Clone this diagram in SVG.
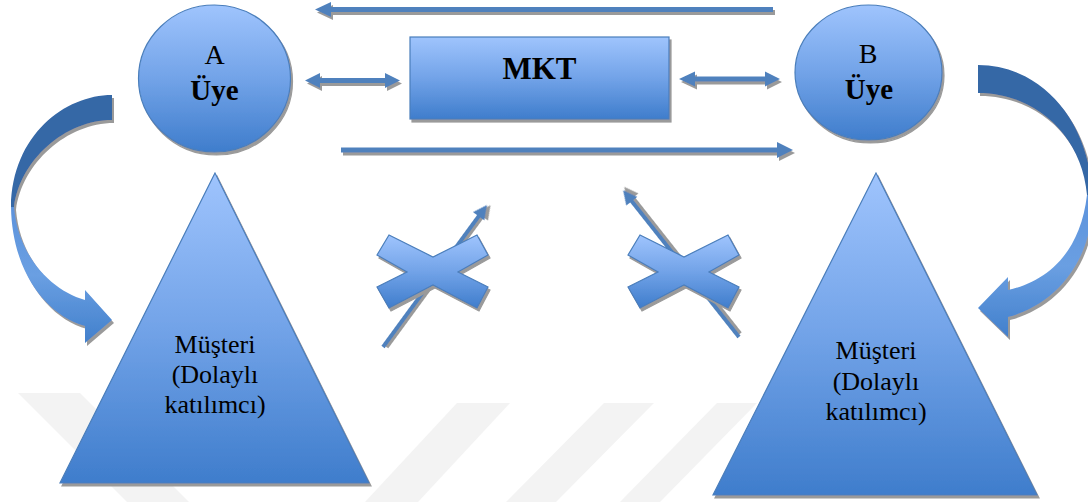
<svg xmlns="http://www.w3.org/2000/svg" width="1088" height="502" viewBox="0 0 1088 502">
<style>
.shape{fill:url(#gShape);stroke:#4a7ebb;stroke-width:1.2;filter:url(#sh)}
.arr{fill:#4f81bd;filter:url(#sh)}
.dark{fill:#3567a6;filter:url(#sh)}
.light{fill:url(#gCurve);filter:url(#sh)}
.wm{fill:#f3f3f3}
.t{font-family:"Liberation Serif","Times New Roman",serif;fill:#000;text-anchor:middle}
.b{font-weight:bold}
</style>
<defs>
<linearGradient id="gShape" x1="0" y1="0" x2="0" y2="1">
<stop offset="0" stop-color="#9fc4fd"/>
<stop offset="0.5" stop-color="#72a3e8"/>
<stop offset="1" stop-color="#3f7dcc"/>
</linearGradient>
<linearGradient id="gCurve" x1="0" y1="0" x2="0" y2="1">
<stop offset="0" stop-color="#5d93dc"/>
<stop offset="0.5" stop-color="#6a9fe2"/>
<stop offset="1" stop-color="#4280cc"/>
</linearGradient>
<filter id="sh" x="-20%" y="-20%" width="140%" height="140%">
<feOffset in="SourceAlpha" dx="2" dy="3" result="o"/>
<feGaussianBlur in="o" stdDeviation="0.6" result="ob"/>
<feFlood flood-color="#9a9a9a"/>
<feComposite in2="ob" operator="in" result="s"/>
<feMerge><feMergeNode in="s"/><feMergeNode in="SourceGraphic"/></feMerge>
</filter>
</defs>

<g id="watermark">
<polygon class="wm" points="18,393 80,393 189,502 127,502"/>
<polygon class="wm" points="457,403 510,403 418,502 365,502"/>
<polygon class="wm" points="604,403 654,403 556,502 506,502"/>
<polygon class="wm" points="717,403 757,403 660,502 620,502"/>
</g>

<g id="connectors">
<polygon class="arr" points="315,9.5 331,2 331,7 773,7 773,12 331,12 331,17"/>
<polygon class="arr" points="341,147.5 777,147.5 777,142 793,150 777,158 777,152.5 341,152.5"/>
<polygon class="arr" points="305,80.5 320,73 320,78 385,78 385,73 400,80.5 385,88 385,83 320,83 320,88"/>
<polygon class="arr" points="679,79 695,71.5 695,76.5 765,76.5 765,71.5 780,79 765,86.5 765,81.5 695,81.5 695,86.5"/>
<polygon class="arr" transform="translate(383,347) rotate(-53.8)" points="0,-2 162,-2 162,-7 176,0 162,7 162,2 0,2"/>
<polygon class="arr" transform="translate(739,337) rotate(-128.3)" points="0,-2 173,-2 173,-7 187,0 173,7 173,2 0,2"/>
<g id="curveLeft">
<path class="dark" d="M112,95 C65,95 12,135 11,207 L14,207 C20,160 65,120 112,120 Z"/>
<path class="light" d="M11,207 C12,270 45,315 85,326 L85,343 L112,320 L85,290 L85,300 C50,290 18,255 14,207 Z"/>
</g>
<g id="curveRight">
<path class="dark" d="M978,65 C1040,65 1090,120 1092,195 L1087,195 C1082,135 1035,93 978,93 Z"/>
<path class="light" d="M1092,195 C1095,260 1055,305 1008,317 L1008,337 L978,308 L1008,277 L1008,290 C1045,282 1080,255 1087,195 Z"/>
</g>
</g>

<g id="nodeA">
<ellipse class="shape" cx="214.5" cy="78.5" rx="76" ry="73.5"/>
<text class="t" x="214.5" y="64" font-size="28">A</text>
<text class="t b" x="214.5" y="100" font-size="29">Üye</text>
</g>

<g id="nodeB">
<ellipse class="shape" cx="868.5" cy="72.5" rx="73.5" ry="67.5"/>
<text class="t" x="868" y="63" font-size="28">B</text>
<text class="t b" x="869" y="99" font-size="29">Üye</text>
</g>

<g id="mkt">
<rect class="shape" x="410" y="37" width="259" height="82"/>
<text class="t b" x="539.5" y="79" font-size="31">MKT</text>
</g>

<g id="custA">
<polygon class="shape" points="215,173 60,483 369,483"/>
<text class="t" x="215" y="353" font-size="26">Müşteri</text>
<text class="t" x="215" y="383" font-size="26">(Dolaylı</text>
<text class="t" x="215" y="413" font-size="26">katılımcı)</text>
</g>

<g id="custB">
<polygon class="shape" points="876,173 713,495 1037,495"/>
<text class="t" x="876" y="359" font-size="26">Müşteri</text>
<text class="t" x="876" y="390" font-size="26">(Dolaylı</text>
<text class="t" x="876" y="420" font-size="26">katılımcı)</text>
</g>

<g id="crossL">
<polygon class="shape" points="377,255 389,235 433,257 477,235 488,255 458,272 488,287 477,308 433,285 389,308 377,287 407,272"/>
</g>

<g id="crossR">
<polygon class="shape" transform="translate(251,0)" points="377,255 389,235 433,257 477,235 488,255 458,272 488,287 477,308 433,285 389,308 377,287 407,272"/>
</g>
</svg>
